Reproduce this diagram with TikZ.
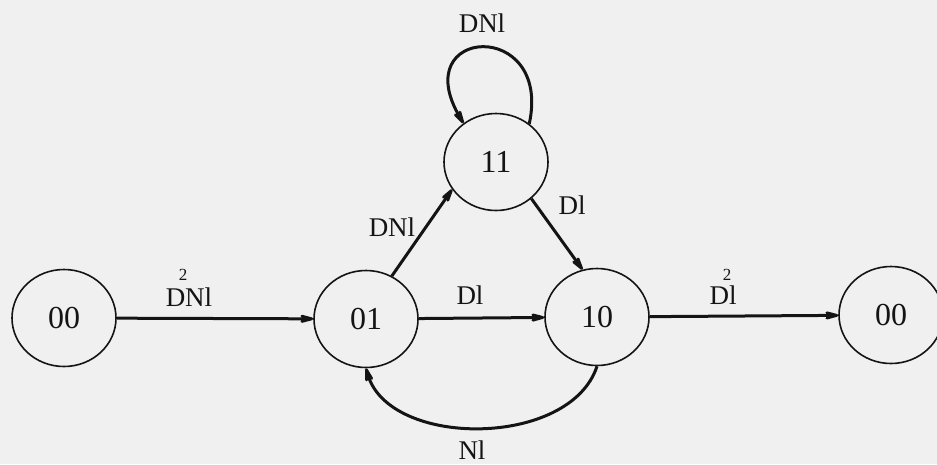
\documentclass[tikz,border=0pt]{standalone}
\usepackage{fontspec}
\setmainfont{Liberation Serif}
\usetikzlibrary{shapes.geometric,arrows.meta}
\definecolor{bg}{RGB}{240,240,240}
\definecolor{ink}{RGB}{20,20,20}
\begin{document}
\begin{tikzpicture}[x=1pt,y=-1pt,
  state/.style={ellipse,draw=ink,line width=1.6pt,minimum width=104pt,minimum height=97pt,inner sep=0pt,font=\fontsize{32}{36}\selectfont,text=ink},
  lbl/.style={font=\fontsize{27}{30}\selectfont,inner sep=0pt,text=ink},
  supr/.style={font=\fontsize{17}{18}\selectfont,inner sep=0pt,text=ink},
  conn/.style={draw=ink,line width=3pt,arrows={-Stealth[length=30pt,width=16pt,inset=17pt,open,line width=2.8pt,round]}}]
\fill[bg] (0,0) rectangle (937,464);
\useasboundingbox (0,0) rectangle (937,464);
% states
\node[state] (a) at (64,318) {00};
\node[state] (b) at (366,319) {01};
\node[state] (c) at (597,317) {10};
\node[state] (d) at (496,162) {11};
\node[state] (e) at (891,315) {00};
% connectors
\draw[conn] (a) -- (b);
\draw[conn] (b) -- (c);
\draw[conn] (c) -- (e);
\draw[conn] (b.59) -- (d.212);
\draw[conn] (d.-46) -- (c.107);
\draw[conn] (d.49) .. controls +(23,-106) and +(-58,-97) .. (d.130);
\draw[conn] (c.-90) .. controls +(-27,82) and +(23,80) .. (b.-90);
% labels
\node[lbl] (l1) at (482,23) {DNl};
\node[lbl] (l2) at (392,227) {DNl};
\node[lbl] (l3) at (572,205) {Dl};
\node[lbl] (l4) at (470,295) {Dl};
\node[lbl] (l5) at (472,450) {Nl};
\node[lbl] (l6) at (189,297) {DNl};
\node[supr] (s6) at (183,275) {2};
\node[lbl] (l7) at (723,295) {Dl};
\node[supr] (s7) at (727,275) {2};
\end{tikzpicture}
\end{document}
